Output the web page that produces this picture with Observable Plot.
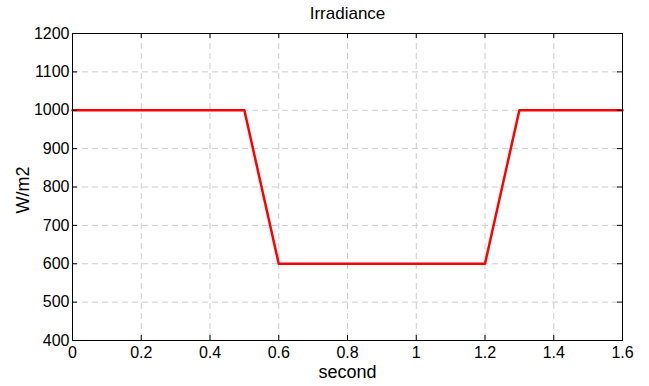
<!DOCTYPE html>
<html>
<head>
<meta charset="utf-8">
<script src="https://cdn.jsdelivr.net/npm/d3@7"></script>
<script src="https://cdn.jsdelivr.net/npm/@observablehq/plot@0.6"></script>
<style>
  html, body { margin: 0; padding: 0; background: #fff; }
</style>
</head>
<body>
<div id="chart"></div>
<script>
const title = "Irradiance";
const xLabel = "second";
const yLabel = "W/m2";
const time = [0, 0.5, 0.6, 1.2, 1.3, 1.6];
const irradiance = [1000, 1000, 600, 600, 1000, 1000];
const xTicks = [0, 0.2, 0.4, 0.6, 0.8, 1.0, 1.2, 1.4, 1.6];
const xTickLabels = ["0", "0.2", "0.4", "0.6", "0.8", "1", "1.2", "1.4", "1.6"];
const yTicks = [400, 500, 600, 700, 800, 900, 1000, 1100, 1200];
const yTickLabels = ["400", "500", "600", "700", "800", "900", "1000", "1100", "1200"];

const data = time.map((t, i) => ({t, v: irradiance[i]}));
const W = 649, H = 386, mL = 72, mR = 27, mT = 33, mB = 46;
const pw = W - mL - mR, ph = H - mT - mB;
const font = "'Liberation Sans', Arial, Helvetica, sans-serif";
const grid = {stroke: "#cccccc", strokeOpacity: 1, strokeWidth: 1, strokeDasharray: "6,4"};

const chart = Plot.plot({
  width: W, height: H,
  marginLeft: mL, marginRight: mR, marginTop: mT, marginBottom: mB,
  style: {fontFamily: font, fontSize: "16px", background: "#fff", color: "#000"},
  x: {domain: [0, 1.6], axis: null},
  y: {domain: [400, 1200], axis: null},
  marks: [
    Plot.ruleX(xTicks.slice(1, -1), {x: d => d, ...grid}),
    Plot.ruleY(yTicks.slice(1, -1), {y: d => d, ...grid}),
    Plot.line(data, {x: "t", y: "v", stroke: "#ff0000", strokeWidth: 2.5}),
    Plot.frame({stroke: "#000", strokeWidth: 1}),
    Plot.tickY(yTicks, {y: d => d, stroke: "#000", insetRight: pw - 5}),
    Plot.tickY(yTicks, {y: d => d, stroke: "#000", insetLeft: pw - 5}),
    Plot.tickX(xTicks, {x: d => d, stroke: "#000", insetTop: ph - 5}),
    Plot.tickX(xTicks, {x: d => d, stroke: "#000", insetBottom: ph - 5}),
    Plot.text(xTicks, {x: d => d, text: (d, i) => xTickLabels[i], frameAnchor: "bottom", textAnchor: "middle", lineAnchor: "middle", dy: 12, fontSize: 16, fill: "#000"}),
    Plot.text(yTicks, {y: d => d, text: (d, i) => yTickLabels[i], frameAnchor: "left", textAnchor: "end", dx: -3, fontSize: 16, fill: "#000"}),
    Plot.text([title], {frameAnchor: "top", textAnchor: "middle", lineAnchor: "middle", dy: -20, fontSize: 17, fill: "#000"}),
    Plot.text([xLabel], {frameAnchor: "bottom", textAnchor: "middle", lineAnchor: "bottom", dy: 37.5, fontSize: 18, fill: "#000"}),
    Plot.text([yLabel], {frameAnchor: "left", textAnchor: "start", lineAnchor: "bottom", rotate: -90, dx: -44, dy: 26.5, fontSize: 18, fill: "#000"})
  ]
});
document.getElementById("chart").appendChild(chart);
</script>
</body>
</html>
